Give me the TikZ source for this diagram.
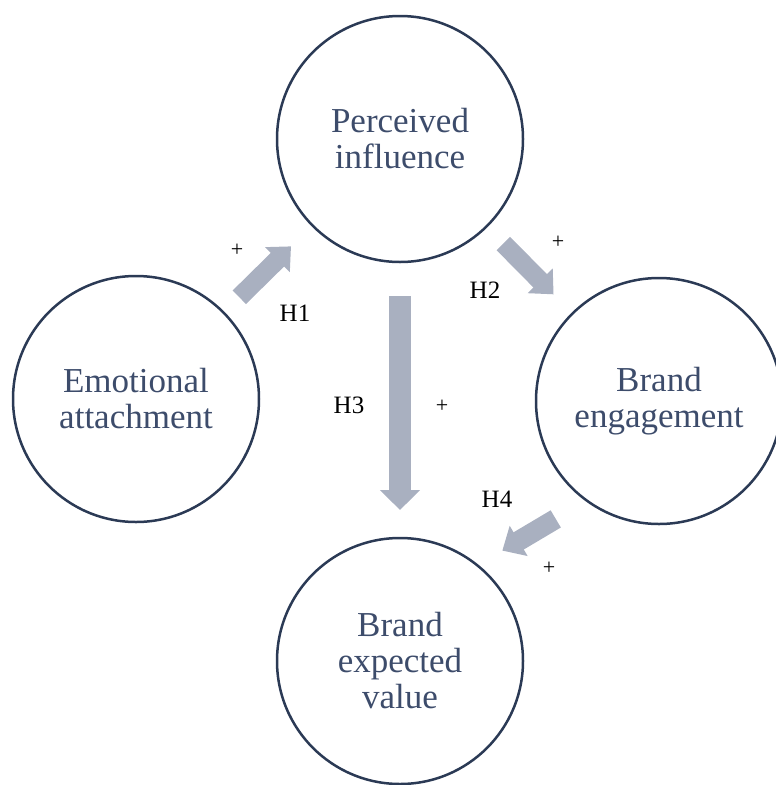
\documentclass[tikz,border=0pt]{standalone}
\usepackage{fontspec}
\setmainfont{Liberation Serif}
\usetikzlibrary{arrows.meta,positioning}
\definecolor{ringblue}{HTML}{2B3A55}
\definecolor{textblue}{HTML}{3D4C6B}
\definecolor{arrowgrey}{HTML}{A9B0C0}
\tikzset{
  construct/.style = {circle, draw=ringblue, line width=2.5pt, minimum size=246pt,
                      inner sep=0pt, outer sep=0pt, align=center, text=textblue,
                      font=\fontsize{35}{36}\selectfont},
  hypo/.style  = {draw=arrowgrey, line width=19pt, -{Triangle[width=34pt,length=19pt]}},
  sign/.style  = {font=\fontsize{25}{28}\selectfont, inner sep=0pt},
  plus/.style  = {font=\fontsize{22}{26}\selectfont, inner sep=0pt},
}

\begin{document}
\begin{tikzpicture}[x=1pt,y=-1pt]
      \useasboundingbox (0,0) rectangle (776,785);
      %constructs
      \node[construct] (influence) at (400,139) {Perceived\\influence};
      \node[construct] (attachment) at (136,399) {Emotional\\attachment};
      \node[construct] (engagement) at (659,401) {Brand\\engagement};
      \node[construct] (value) at (400,661) {Brand\\expected\\value};

      %hypotheses
      \draw[hypo, shorten <=22pt, shorten >=30pt] (attachment) -- (influence);
      \draw[hypo, shorten <=24pt, shorten >=27pt] (influence) -- (engagement);
      \draw[hypo, line width=22pt, -{Triangle[width=39pt,length=20pt]},
            shorten <=34pt, shorten >=28pt] (influence) -- (value);
      \draw[hypo, line width=20pt, shorten <=36pt, shorten >=29pt] (engagement.234) -- (value.51);

      %labels
      \node[plus] (plus_1) at (237,250) {+};
      \node[sign] (h_1) at (295,313) {H1};
      \node[plus] (plus_2) at (558,242) {+};
      \node[sign] (h_2) at (485,290) {H2};
      \node[sign] (h_3) at (349,405) {H3};
      \node[plus] (plus_3) at (442,406) {+};
      \node[sign] (h_4) at (497,499) {H4};
      \node[plus] (plus_4) at (549,568) {+};
\end{tikzpicture}
\end{document}
